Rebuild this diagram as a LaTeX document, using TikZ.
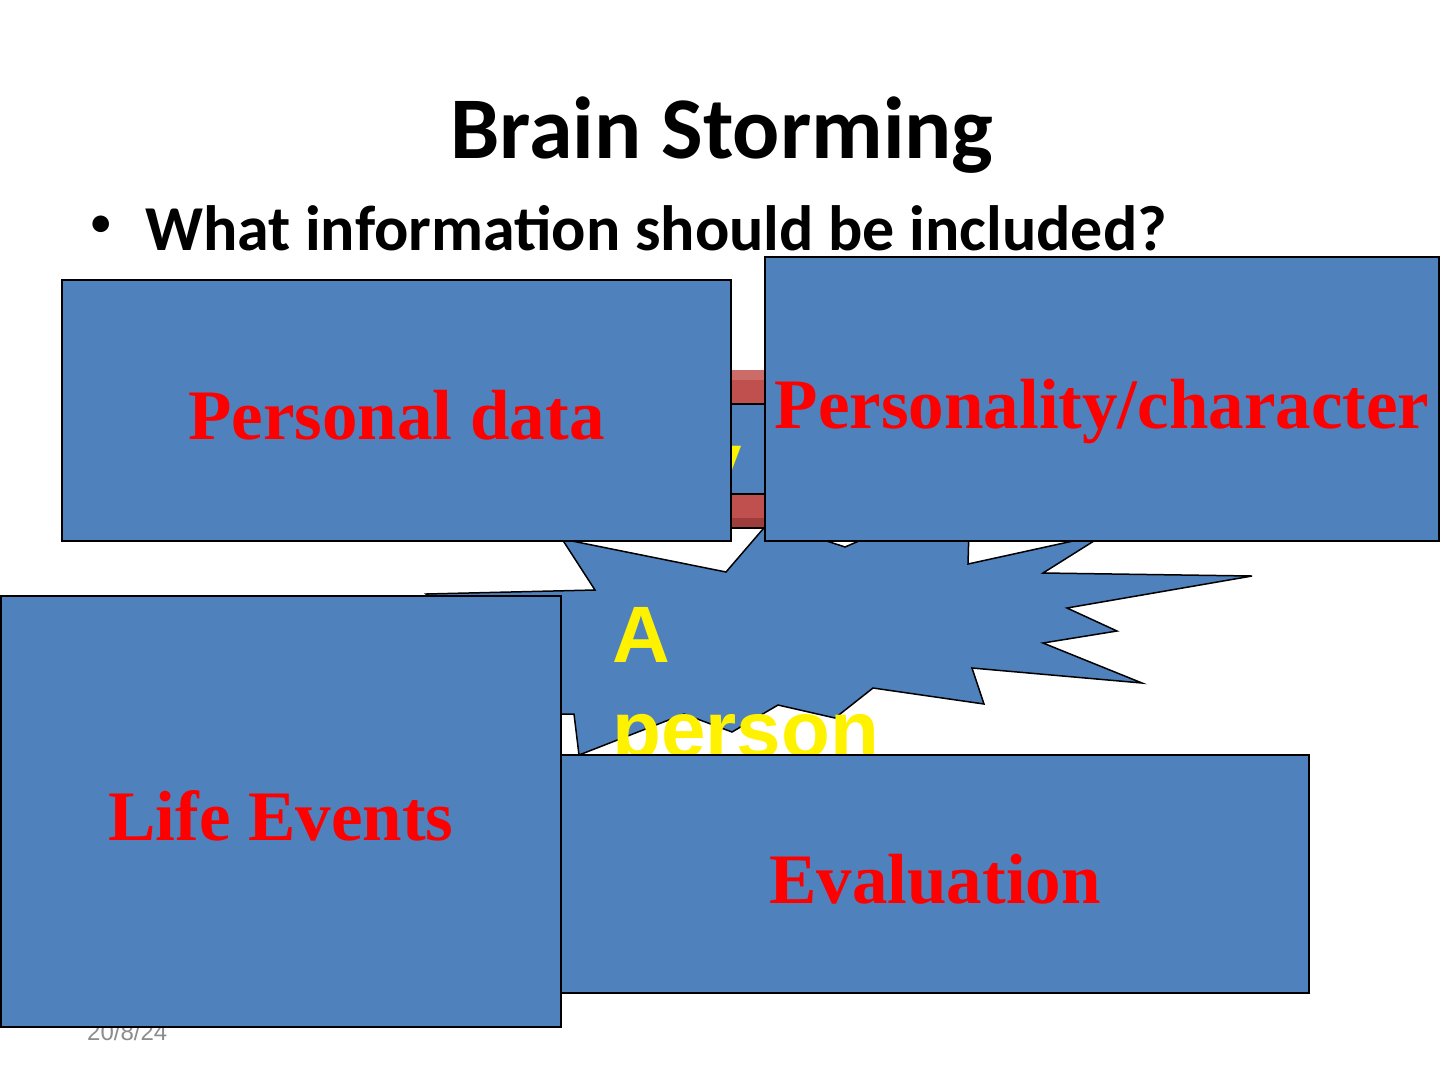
\documentclass[tikz,border=0pt]{standalone}
\usepackage{fontspec}
\setmainfont{Liberation Serif}
\newfontfamily\slidefont{Carlito}
\newfontfamily\arialfont{Liberation Sans}
\usetikzlibrary{positioning}
\definecolor{slideblue}{HTML}{4F81BD}
\definecolor{bandred}{HTML}{C0504D}
\definecolor{bandlight}{HTML}{CC6C69}
\definecolor{banddark}{HTML}{9E3D3B}
\definecolor{dategray}{HTML}{8C8C8C}

\begin{document}
\begin{tikzpicture}[
        x=1pt, y=-1pt,
        infobox/.style={rectangle, draw=black, fill=slideblue, line width=1.5pt, inner sep=0pt, text=red, font=\fontsize{71}{80}\selectfont\bfseries, text height=58pt, text depth=0pt},
        burst/.style={draw=black, fill=slideblue, line width=1.5pt, line join=miter},
        yellowtext/.style={inner sep=0pt, text=yellow, font=\arialfont\bfseries\fontsize{80}{95}\selectfont},
        slidetext/.style={inner sep=0pt, anchor=base west, font=\slidefont\bfseries\fontsize{64}{76}\selectfont}
    ]
        \useasboundingbox (0,0) rectangle (1440,1080);
        \node (title) [anchor=base, inner sep=0pt, font=\slidefont\bfseries\fontsize{88}{100}\selectfont] at (722,158) {Brain Storming};
        \node (dot) [slidetext, font=\slidefont\fontsize{47}{56}\selectfont] at (89.3,237.7) {•};
        \node (question) [slidetext] at (145,250) {What information should be included?};
        % banner behind the top boxes
        \fill[bandlight] (300,370) rectangle (1100,380);
        \fill[bandred] (300,380) rectangle (1100,404);
        \fill[slideblue] (300,404) rectangle (1100,494);
        \fill[bandred] (300,494) rectangle (1100,518);
        \fill[banddark] (300,518) rectangle (1100,528);
        \draw[line width=1.5pt] (300,404) -- (1100,404) (300,494) -- (1100,494) (300,528) -- (1100,528);
        \node (hidden) [yellowtext, anchor=base east] at (742,488) {y};
        \draw[burst] (562,539) -- (726,572) -- (769,522) -- (845,547) -- (970,493) -- (968,564) -- (1105,534) -- (1043,573) -- (1252,576) -- (1067,608) -- (1117,631) -- (1043,643) -- (1142,683) -- (972,668) -- (984,704) -- (873,688) -- (835,718) -- (778,705) -- (732,732) -- (684,714) -- (579,755) -- (574,714) -- (530,714) -- (500,650) -- (426,594) -- (595,590) -- cycle;
        \node (person) [yellowtext, anchor=base west, text width=300pt, align=left] at (612,662) {A\\person};
        \node (personal) [infobox, minimum width=669pt, minimum height=261pt] at (396.5,410.5) {Personal data};
        \node (character) [infobox, minimum width=674pt, minimum height=284pt] at (1102,399) {Personality/character};
        \node (evaluation) [infobox, minimum width=748pt, minimum height=238pt] at (935,874) {Evaluation};
        \node (date) [anchor=base west, inner sep=0pt, text=dategray, font=\arialfont\fontsize{24}{28}\selectfont] at (87,1040) {20/8/24};
        \node (events) [infobox, minimum width=560pt, minimum height=431pt] at (281,811.5) {Life Events};
    \end{tikzpicture}
\end{document}
